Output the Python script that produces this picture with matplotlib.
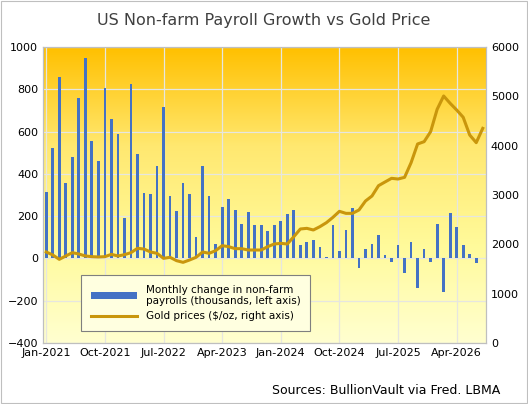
import numpy as np
import matplotlib
matplotlib.use("Agg")
import matplotlib.pyplot as plt
import pandas as pd
from matplotlib.colors import LinearSegmentedColormap

months = pd.date_range("2021-01-01", periods=68, freq="MS").strftime("%b-%Y").tolist()
payrolls = [315,520,858,359,482,759,948,556,460,806,661,589,192,824,493,310,304,438,718,293,
            222,359,305,101,438,293,69,243,282,227,165,219,156,159,129,156,176,208,230,65,
            80,88,54,9,156,33,135,239,-47,43,66,109,14,-19,65,-69,76,-142,43,-16,
            161,-157,216,150,63,20,-22,np.nan]
gold = [1845,1784,1696,1764,1831,1804,1764,1750,1744,1750,1797,1764,1790,1831,1919,1905,1845,1818,1716,1737,
        1669,1635,1683,1737,1845,1818,1872,1973,1953,1912,1912,1885,1885,1885,1953,2007,2020,2007,2155,2311,
        2324,2291,2358,2439,2547,2669,2628,2628,2696,2878,2980,3189,3264,3338,3324,3358,3655,4034,4081,4284,
        4737,5007,4858,4723,4575,4216,4061,4351]
tick_idx = list(range(0, 68, 9))

fig = plt.figure(figsize=(5.28, 4.04), dpi=100)
ax = fig.add_axes([43/528, 1-343/404, 443/528, 296/404])
x = np.arange(len(months))

grad = np.linspace(0, 1, 256).reshape(-1, 1)
cmap = LinearSegmentedColormap.from_list("g", ["#FFFFD0", "#FFFA9A", "#FFE870", "#FFC000"])
ax.imshow(grad, aspect="auto", cmap=cmap, origin="lower", extent=[0, 1, 0, 1],
          transform=ax.transAxes, zorder=0)

ax.bar(x, payrolls, width=0.42, color="#4472C4", zorder=3,
       label="Monthly change in non-farm\npayrolls (thousands, left axis)")
ax.set_ylim(-400, 1000)
ax.set_yticks(range(-400, 1001, 200))
ax.set_xlim(-0.5, len(months) - 0.5)
ax.set_xticks(tick_idx)
ax.set_xticklabels([months[i] for i in tick_idx])
ax.grid(True, color="#E6E6E0", lw=0.9, zorder=1)
ax.tick_params(length=0, labelsize=8)
for s in ax.spines.values():
    s.set_color("#BFBFBF")

ax2 = ax.twinx()
ax2.plot(x, gold, color="#C9960C", lw=2.2, zorder=4, label="Gold prices ($/oz, right axis)")
ax2.set_ylim(0, 6000)
ax2.set_yticks(range(0, 6001, 1000))
ax2.tick_params(length=0, labelsize=8)
for s in ax2.spines.values():
    s.set_color("#BFBFBF")

h1, l1 = ax.get_legend_handles_labels()
h2, l2 = ax2.get_legend_handles_labels()
leg = ax2.legend(h1 + h2, l1 + l2, loc="upper left", bbox_to_anchor=(33/443, (343-270)/296),
                 fontsize=7.5, frameon=True, fancybox=False, facecolor="#FFFFE0",
                 edgecolor="#7F7F7F", framealpha=1, handlelength=4.5, borderpad=0.9)
leg.get_frame().set_linewidth(0.8)

fig.text(0.5, 1-20/404, "US Non-farm Payroll Growth vs Gold Price", ha="center", va="center",
         fontsize=11.5, color="#404040")
fig.text(500/528, 1-391/404, "Sources: BullionVault via Fred. LBMA", ha="right", va="center",
         fontsize=9, color="#000000")
fig.patches.append(plt.Rectangle((0.002, 0.002), 0.996, 0.996, transform=fig.transFigure,
                                 fill=False, edgecolor="#BFBFBF", lw=0.8))
fig.savefig("out.png", dpi=100)
